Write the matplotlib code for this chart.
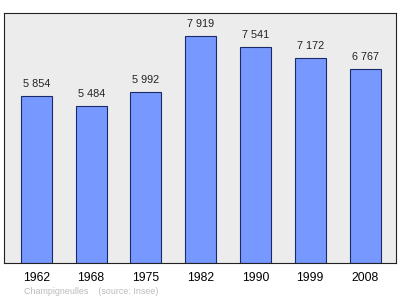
import matplotlib
matplotlib.use("Agg")
import matplotlib.pyplot as plt

plt.rcParams["font.family"] = ["Liberation Sans", "DejaVu Sans"]

years = ["1962", "1968", "1975", "1982", "1990", "1999", "2008"]
population = [5854, 5484, 5992, 7919, 7541, 7172, 6767]
labels = ["5 854", "5 484", "5 992", "7 919", "7 541", "7 172", "6 767"]

fig = plt.figure(figsize=(4.0, 2.99), dpi=100)
ax = fig.add_axes([0.011, 0.119, 0.978, 0.836])
ax.set_facecolor("#ececec")

x = range(len(years))
ax.bar(x, population, width=0.566, color="#7799ff", edgecolor="#1a2a66", linewidth=0.8)
for i, (v, lab) in enumerate(zip(population, labels)):
  ax.annotate(lab, (i, v), xytext=(0, 5), textcoords="offset points",
              ha="center", va="bottom", fontsize=7.8, color="#222222")

ax.set_xlim(-0.584, 6.557)
ax.set_ylim(0, 8720)
ax.set_yticks([])
ax.set_xticks(list(x))
ax.set_xticklabels(years, fontsize=8.8)
ax.tick_params(axis="x", length=0, pad=6)
for s in ax.spines.values():
  s.set_color("#222222")
  s.set_linewidth(0.8)

fig.text(0.06, 0.024, "Champigneulles    (source: Insee)", fontsize=6.4,
         color="#bbbbbb", va="center")

fig.savefig("out.png", dpi=100)
